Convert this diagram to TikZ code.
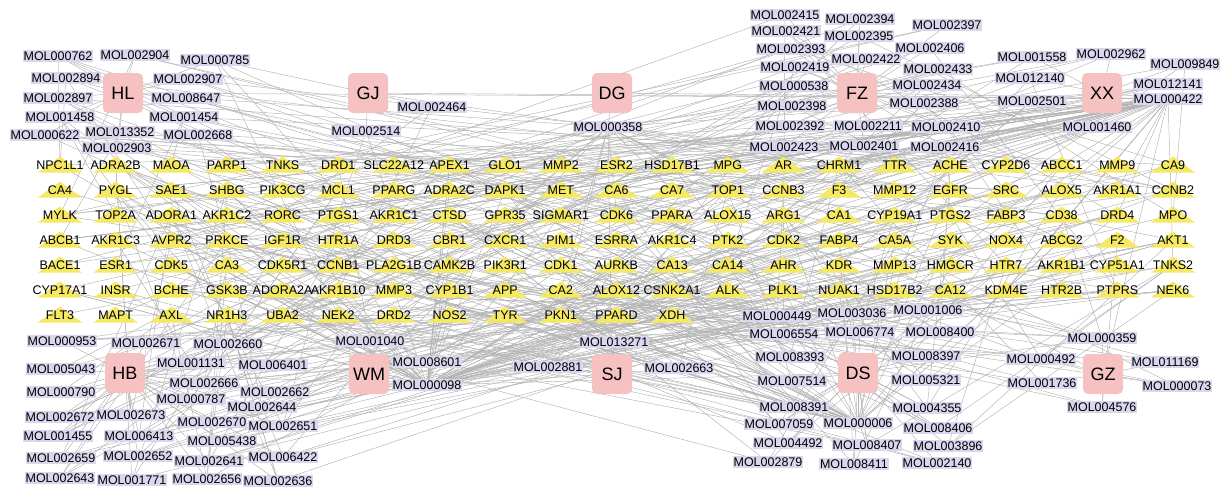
\documentclass[tikz,border=0pt]{standalone}
\usepackage{fontspec}
\setmainfont{Liberation Sans}
\usetikzlibrary{calc}
\pgfdeclarelayer{bg}
\pgfdeclarelayer{mid}
\pgfsetlayers{bg,mid,main}
\definecolor{herbpink}{RGB}{245,193,193}
\definecolor{mollav}{RGB}{217,214,238}
\definecolor{tgtyel}{RGB}{245,233,100}
\definecolor{edgegray}{RGB}{178,178,178}
\tikzset{
 herb/.style={fill=herbpink, rounded corners=5pt, minimum width=40pt, minimum height=40pt, inner sep=0pt, font=\fontsize{18}{20}\selectfont},
 mol/.style={fill=mollav, inner xsep=1pt, inner ysep=1.6pt, font=\fontsize{12.5}{14}\selectfont},
 tgt/.style={inner sep=0pt, font=\fontsize{12.5}{14}\selectfont},
 link/.style={draw=edgegray, line width=0.45pt},
}
\def\mols{000762/58/56/4, 002904/135/55/3, 000785/215/60/3, 002894/66/78/4, 002907/188/79/3, 002897/58/98/4, 008647/186/98/3, 001458/60/117/4, 001454/184/117/5, 000622/45/135/5, 013352/120/132/3, 002668/198/135/4, 002903/117/148/4,
002464/432/107/2, 002514/366/131/3, 000358/608/127/14,
002415/785/15/2, 002394/860/19/2, 002421/786/31/2, 002395/859/36/2, 002393/791/49/3, 002422/866/59/2, 002419/795/67/3, 000538/794/86/3, 002398/792/106/3, 002392/790/126/3, 002211/868/126/3, 002423/784/147/3, 002401/864/146/3, 002397/947/25/2, 002406/930/48/2, 002433/938/69/3, 002434/927/85/2, 002388/924/103/3, 002410/946/127/3, 002416/945/147/3,
001558/1032/57/3, 002962/1111/54/3, 009849/1185/64/3, 012140/1030/78/3, 012141/1168/84/4, 002501/1032/101/4, 000422/1168/99/48, 001460/1097/127/6,
000953/62/341/4, 002671/146/343/4, 002660/228/344/4, 005043/61/369/3, 001131/191/363/5, 006401/273/365/4, 002666/204/383/4, 002662/275/392/4, 000790/61/392/3, 000787/191/399/5, 002644/262/407/4, 002672/60/417/3, 002673/131/415/4, 002670/212/422/4, 002651/283/426/4, 001455/58/436/3, 006413/139/436/4, 005438/222/441/4, 002659/61/458/3, 002652/138/456/4, 002641/209/461/4, 006422/283/457/4, 002643/60/478/3, 001771/132/480/3, 002656/207/479/4, 002636/278/481/4,
001040/370/341/6, 008601/427/362/5, 000098/427/385/60,
013271/614/342/5, 002881/548/367/5, 002663/679/368/4,
000449/777/316/12, 003036/852/313/4, 006554/784/334/4, 006774/860/332/4, 008393/790/357/4, 007514/792/381/4, 008391/794/407/4, 007059/779/424/4, 000006/858/423/36, 004492/788/443/3, 008407/867/445/4, 002879/768/462/3, 008411/854/464/3, 001006/928/310/4, 008400/940/332/4, 008397/926/356/4, 005321/926/380/4, 004355/927/408/4, 008406/938/428/4, 003896/948/446/3, 002140/937/463/3,
000359/1102/338/6, 000492/1041/359/5, 011169/1165/362/3, 001736/1042/383/3, 000073/1177/386/3, 004576/1102/407/3}
\begin{document}
\begin{tikzpicture}[x=1pt,y=-1pt]
\useasboundingbox (0,0) rectangle (1225,488);
% herbs
\foreach \h/\x/\y in {HL/123/93, GJ/368/93, DG/612/93, FZ/857/93, XX/1102/93, HB/125/373, WM/369/374, SJ/612/374, DS/858/373, GZ/1103/374}
  \node[herb] (\h) at (\x,\y) {\h};
% compounds
\foreach \n/\x/\y/\k in \mols
  \node[mol] (MOL\n) at (\x,\y) {MOL\n};
% targets
\foreach \row/\lst in {
 1/{NPC1L1,ADRA2B,MAOA,PARP1,TNKS,DRD1,SLC22A12,APEX1,GLO1,MMP2,ESR2,HSD17B1,MPG,AR,CHRM1,TTR,ACHE,CYP2D6,ABCC1,MMP9,CA9},
 2/{CA4,PYGL,SAE1,SHBG,PIK3CG,MCL1,PPARG,ADRA2C,DAPK1,MET,CA6,CA7,TOP1,CCNB3,F3,MMP12,EGFR,SRC,ALOX5,AKR1A1,CCNB2},
 3/{MYLK,TOP2A,ADORA1,AKR1C2,RORC,PTGS1,AKR1C1,CTSD,GPR35,SIGMAR1,CDK6,PPARA,ALOX15,ARG1,CA1,CYP19A1,PTGS2,FABP3,CD38,DRD4,MPO},
 4/{ABCB1,AKR1C3,AVPR2,PRKCE,IGF1R,HTR1A,DRD3,CBR1,CXCR1,PIM1,ESRRA,AKR1C4,PTK2,CDK2,FABP4,CA5A,SYK,NOX4,ABCG2,F2,AKT1},
 5/{BACE1,ESR1,CDK5,CA3,CDK5R1,CCNB1,PLA2G1B,CAMK2B,PIK3R1,CDK1,AURKB,CA13,CA14,AHR,KDR,MMP13,HMGCR,HTR7,AKR1B1,CYP51A1,TNKS2},
 6/{CYP17A1,INSR,BCHE,GSK3B,ADORA2A,AKR1B10,MMP3,CYP1B1,APP,CA2,ALOX12,CSNK2A1,ALK,PLK1,NUAK1,HSD17B2,CA12,KDM4E,HTR2B,PTPRS,NEK6},
 7/{FLT3,MAPT,AXL,NR1H3,UBA2,NEK2,DRD2,NOS2,TYR,PKN1,PPARD,XDH}}{
  \foreach \g [count=\c from 0] in \lst {
    \node[tgt, alias=t\row-\c] (\g) at ({60+55.65*\c},{140+25*\row}) {\g};
    \begin{pgfonlayer}{mid}
      \fill[tgtyel] ($(\g)+(-22,7.5)$) -- ($(\g)+(22,7.5)$) -- ($(\g)+(0,-8.5)$) -- cycle;
    \end{pgfonlayer}
  }
}
% edges
\begin{pgfonlayer}{bg}
\foreach \h/\ms in {
 HL/{000762,002904,000785,002894,002907,002897,008647,001458,001454,000622,013352,002668,002903,000422,000358},
 GJ/{000785,002464,002514,000358,000422},
 DG/{000358,000422},
 FZ/{002415,002394,002421,002395,002393,002422,002419,000538,002398,002392,002211,002423,002401,002397,002406,002433,002434,002388,002410,002416,000422,000358},
 XX/{001558,002962,009849,012140,012141,002501,000422,001460,000358},
 HB/{000953,002671,002660,005043,001131,006401,002666,002662,000790,000787,002644,002672,002673,002670,002651,001455,006413,005438,002659,002652,002641,006422,002643,001771,002656,002636,000358,000098,001040,000422,000449},
 WM/{001040,008601,000098,000358},
 SJ/{013271,002881,002663,000098,000358,000449},
 DS/{000449,003036,006554,006774,008393,007514,008391,007059,000006,004492,008407,002879,008411,001006,008400,008397,005321,004355,008406,003896,002140,000098,000359},
 GZ/{000359,000492,011169,001736,000073,004576,000422,000358}}{
  \foreach \m in \ms {\draw[link] (\h.center) -- (MOL\m.center);}
}
\pgfmathsetseed{20}
\foreach \n/\x/\y/\k in \mols {
  \foreach \j in {1,...,\k}{
    \pgfmathtruncatemacro\kk{random(0,137)}
    \pgfmathtruncatemacro\rr{\kk<126 ? int(\kk/21)+1 : 7}
    \pgfmathtruncatemacro\cc{\kk<126 ? mod(\kk,21) : \kk-126}
    \draw[link] (MOL\n.center) -- (t\rr-\cc.center);
  }
}
\end{pgfonlayer}
\end{tikzpicture}
\end{document}
